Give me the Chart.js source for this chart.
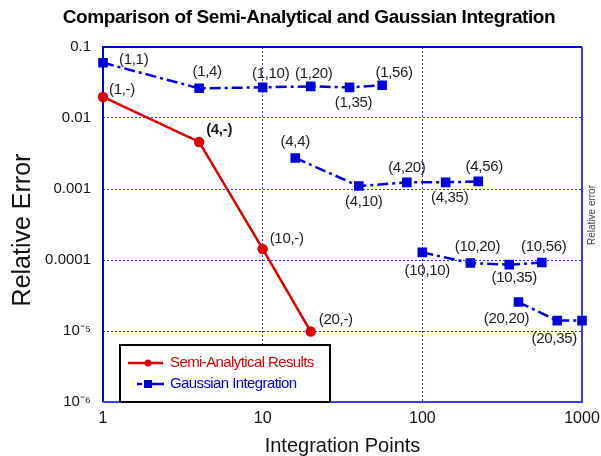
<!DOCTYPE html>
<html>
<head>
<meta charset="utf-8">
<script src="https://cdn.jsdelivr.net/npm/chart.js@4/dist/chart.umd.min.js"></script>
<style>
html,body{margin:0;padding:0;background:#fff;}
#wrap{width:601px;height:456px;position:relative;}
</style>
</head>
<body>
<div id="wrap"><canvas id="c" width="601" height="456"></canvas></div>
<script>
// ---------- DATA ----------
const titleText = 'Comparison of Semi-Analytical and Gaussian Integration';
const xTitle = 'Integration Points';
const yTitle = 'Relative Error';
const rightNote = 'Relative error';
const xTicks = [1, 10, 100, 1000];
const xTickLabels = ['1', '10', '100', '1000'];
const yTicks = [1e-6, 1e-5, 1e-4, 1e-3, 1e-2, 1e-1];
const yTickLabels = ['10\u207B\u2076', '10\u207B\u2075', '0.0001', '0.001', '0.01', '0.1'];

const semiName = 'Semi-Analytical Results';
const semiX = [1, 4, 10, 20];
const semiY = [0.0198, 0.0046, 0.000143, 0.0000098];
const semiLabels = ['(1,-)', '(4,-)', '(10,-)', '(20,-)'];

const gaussName = 'Gaussian Integration';
const gauss1X = [1, 4, 10, 20, 35, 56];
const gauss1Y = [0.060, 0.0262, 0.0270, 0.0279, 0.0270, 0.0290];
const gauss1Labels = ['(1,1)', '(1,4)', '(1,10)', '(1,20)', '(1,35)', '(1,56)'];
const gauss4X = [16, 40, 80, 140, 224];
const gauss4Y = [0.00274, 0.00110, 0.00124, 0.00124, 0.00128];
const gauss4Labels = ['(4,4)', '(4,10)', '(4,20)', '(4,35)', '(4,56)'];
const gauss10X = [100, 200, 350, 560];
const gauss10Y = [0.000128, 0.0000908, 0.0000860, 0.0000920];
const gauss10Labels = ['(10,10)', '(10,20)', '(10,35)', '(10,56)'];
const gauss20X = [400, 700, 1000];
const gauss20Y = [0.0000256, 0.0000140, 0.0000140];
const gauss20Labels = ['(20,20)', '(20,35)', ''];

// ---------- STYLE (label offsets relative to the marker) ----------
const semiLabelOffsets = [[6, -7, 'left'], [7, -12, 'left', true], [7, -10, 'left'], [8, -12, 'left']];
const gaussLabelOffsets = [
  [16, -3, 'left'], [8, -16, 'center'], [8, -14, 'center'], [3, -13, 'center'], [4, 15, 'center'], [12, -12, 'center'],
  null,
  [0, -16, 'center'], [5, 16, 'center'], [0, -15, 'center'], [4, 15, 'center'], [6, -15, 'center'],
  null,
  [5, 18, 'center'], [7, -16, 'center'], [5, 13, 'center'], [2, -16, 'center'],
  null,
  [-12, 17, 'center'], [-3, 18, 'center'], null
];

const RED = '#e00000';
const BLUE = '#0000dd';
const FAM = '"Liberation Sans", Arial, sans-serif';

// build datasets from the arrays
const semiData = semiX.map((x, i) => ({x, y: semiY[i]}));
const semiLbl = semiLabels.slice();
const gaussData = [];
const gaussLbl = [];
[[gauss1X, gauss1Y, gauss1Labels], [gauss4X, gauss4Y, gauss4Labels], [gauss10X, gauss10Y, gauss10Labels], [gauss20X, gauss20Y, gauss20Labels]]
  .forEach((g, gi) => {
    if (gi > 0) { gaussData.push({x: g[0][0], y: null}); gaussLbl.push(''); }
    g[0].forEach((x, i) => { gaussData.push({x, y: g[1][i]}); gaussLbl.push(g[2][i]); });
  });

const LBLFONT = '15px ' + FAM;

const decor = {
  id: 'decor',
  beforeDraw(chart) {
    const ctx = chart.ctx;
    ctx.save();
    ctx.fillStyle = '#fff';
    ctx.fillRect(0, 0, chart.width, chart.height);
    ctx.restore();
  },
  beforeDatasetsDraw(chart) {
    const ctx = chart.ctx;
    const a = chart.chartArea;
    ctx.save();
    ctx.lineWidth = 2;
    ctx.strokeStyle = BLUE;
    ctx.beginPath();
    ctx.moveTo(a.left, a.bottom); ctx.lineTo(a.left, a.top); ctx.lineTo(a.right, a.top);
    ctx.stroke();
    ctx.strokeStyle = '#3a3af0';
    ctx.beginPath();
    ctx.moveTo(a.right, a.top); ctx.lineTo(a.right, a.bottom); ctx.lineTo(a.left, a.bottom);
    ctx.stroke();
    ctx.restore();
  },
  afterDraw(chart) {
    const ctx = chart.ctx;
    ctx.save();

    // title
    ctx.fillStyle = '#000';
    ctx.font = 'bold 19px ' + FAM;
    ctx.letterSpacing = '-0.4px';
    ctx.textAlign = 'center';
    ctx.textBaseline = 'middle';
    ctx.fillText(titleText, 309, 18);
    ctx.letterSpacing = '0px';

    // y-axis title
    ctx.save();
    ctx.translate(23, 230);
    ctx.rotate(-Math.PI / 2);
    ctx.font = '25px ' + FAM;
    ctx.fillStyle = '#111';
    ctx.fillText(yTitle, 0, 0);
    ctx.restore();

    // right small note
    ctx.save();
    ctx.translate(592, 215);
    ctx.rotate(-Math.PI / 2);
    ctx.font = '10px ' + FAM;
    ctx.fillStyle = '#444';
    ctx.fillText(rightNote, 0, 0);
    ctx.restore();

    // data labels
    ctx.letterSpacing = '-0.3px';
    ctx.fillStyle = '#1a1a1a';
    ctx.textBaseline = 'middle';
    const draw = (dsIndex, labels, offs) => {
      const meta = chart.getDatasetMeta(dsIndex);
      meta.data.forEach((el, i) => {
        const o = offs[i];
        if (!o || !labels[i]) return;
        ctx.textAlign = o[2];
        ctx.font = (o[3] ? 'bold ' : '') + LBLFONT;
        ctx.fillText(labels[i], el.x + o[0], el.y + o[1]);
      });
    };
    draw(0, semiLbl, semiLabelOffsets);
    draw(1, gaussLbl, gaussLabelOffsets);
    ctx.letterSpacing = '0px';

    // legend box
    const lx = 120, ly = 345, lw = 210, lh = 57;
    ctx.fillStyle = '#fff';
    ctx.fillRect(lx, ly, lw, lh);
    ctx.strokeStyle = '#000';
    ctx.lineWidth = 2;
    ctx.strokeRect(lx, ly, lw, lh);
    // entry 1
    ctx.strokeStyle = RED; ctx.lineWidth = 2.5; ctx.setLineDash([]);
    ctx.beginPath(); ctx.moveTo(128, 363); ctx.lineTo(163, 363); ctx.stroke();
    ctx.fillStyle = RED;
    ctx.beginPath(); ctx.arc(148, 363, 3.5, 0, Math.PI * 2); ctx.fill();
    // entry 2
    ctx.strokeStyle = BLUE;
    ctx.beginPath(); ctx.moveTo(137, 384); ctx.lineTo(142, 384); ctx.moveTo(152, 384); ctx.lineTo(164, 384); ctx.stroke();
    ctx.fillStyle = BLUE;
    ctx.fillRect(144, 380, 8, 8);
    ctx.font = '15px ' + FAM;
    ctx.letterSpacing = '-0.6px';
    ctx.textAlign = 'left';
    ctx.textBaseline = 'middle';
    ctx.fillStyle = RED;
    ctx.fillText(chart.data.datasets[0].label, 170, 363);
    ctx.fillStyle = BLUE;
    ctx.fillText(chart.data.datasets[1].label, 170, 384);
    ctx.restore();
  }
};

new Chart(document.getElementById('c'), {
  type: 'line',
  data: {
    datasets: [
      {
        label: semiName,
        data: semiData,
        borderColor: RED,
        backgroundColor: RED,
        borderWidth: 2.5,
        pointStyle: 'circle',
        pointRadius: 4,
        pointHoverRadius: 4,
        tension: 0,
        spanGaps: false,
        clip: 8
      },
      {
        label: gaussName,
        data: gaussData,
        borderColor: BLUE,
        backgroundColor: BLUE,
        borderWidth: 2.5,
        borderDash: [11, 4, 3, 4],
        pointStyle: 'rect',
        pointRadius: 5,
        pointHoverRadius: 5,
        tension: 0,
        spanGaps: false,
        clip: 8
      }
    ]
  },
  options: {
    responsive: false,
    animation: false,
    events: [],
    layout: {padding: {top: 47, right: 19, left: 0, bottom: 0}},
    plugins: {
      legend: {display: false},
      title: {display: false},
      tooltip: {enabled: false}
    },
    scales: {
      x: {
        type: 'logarithmic',
        min: 1, max: 1000,
        afterBuildTicks: s => { s.ticks = xTicks.map(v => ({value: v})); },
        afterFit: s => { s.height = 54; s.paddingLeft = 0; s.paddingRight = 0; },
        ticks: {
          autoSkip: false,
          maxRotation: 0,
          padding: 7,
          color: '#111',
          font: {family: FAM, size: 16},
          callback: (v) => { const i = xTicks.indexOf(v); return i >= 0 ? xTickLabels[i] : ''; }
        },
        grid: {
          color: '#2a2af0',
          lineWidth: 1,
          drawTicks: false,
          tickLength: 0
        },
        border: {display: false, dash: [2, 2]},
        title: {
          display: true,
          text: xTitle,
          color: '#111',
          font: {family: FAM, size: 20, lineHeight: 1.0},
          padding: {top: 0, bottom: 0}
        }
      },
      y: {
        type: 'logarithmic',
        min: 1e-6, max: 0.1,
        afterBuildTicks: s => { s.ticks = yTicks.map(v => ({value: v})); },
        afterFit: s => { s.width = 103; s.paddingTop = 0; s.paddingBottom = 0; },
        ticks: {
          autoSkip: false,
          padding: 12,
          color: '#111',
          font: {family: FAM, size: 15},
          callback: (v) => {
            const i = yTicks.findIndex(t => Math.abs(Math.log10(t) - Math.log10(v)) < 1e-6);
            return i >= 0 ? yTickLabels[i] : '';
          }
        },
        grid: {
          color: '#2a2af0',
          lineWidth: 1,
          drawTicks: false,
          tickLength: 0
        },
        border: {display: false, dash: [2, 2]},
        title: {display: false}
      }
    }
  },
  plugins: [decor]
});
</script>
</body>
</html>
